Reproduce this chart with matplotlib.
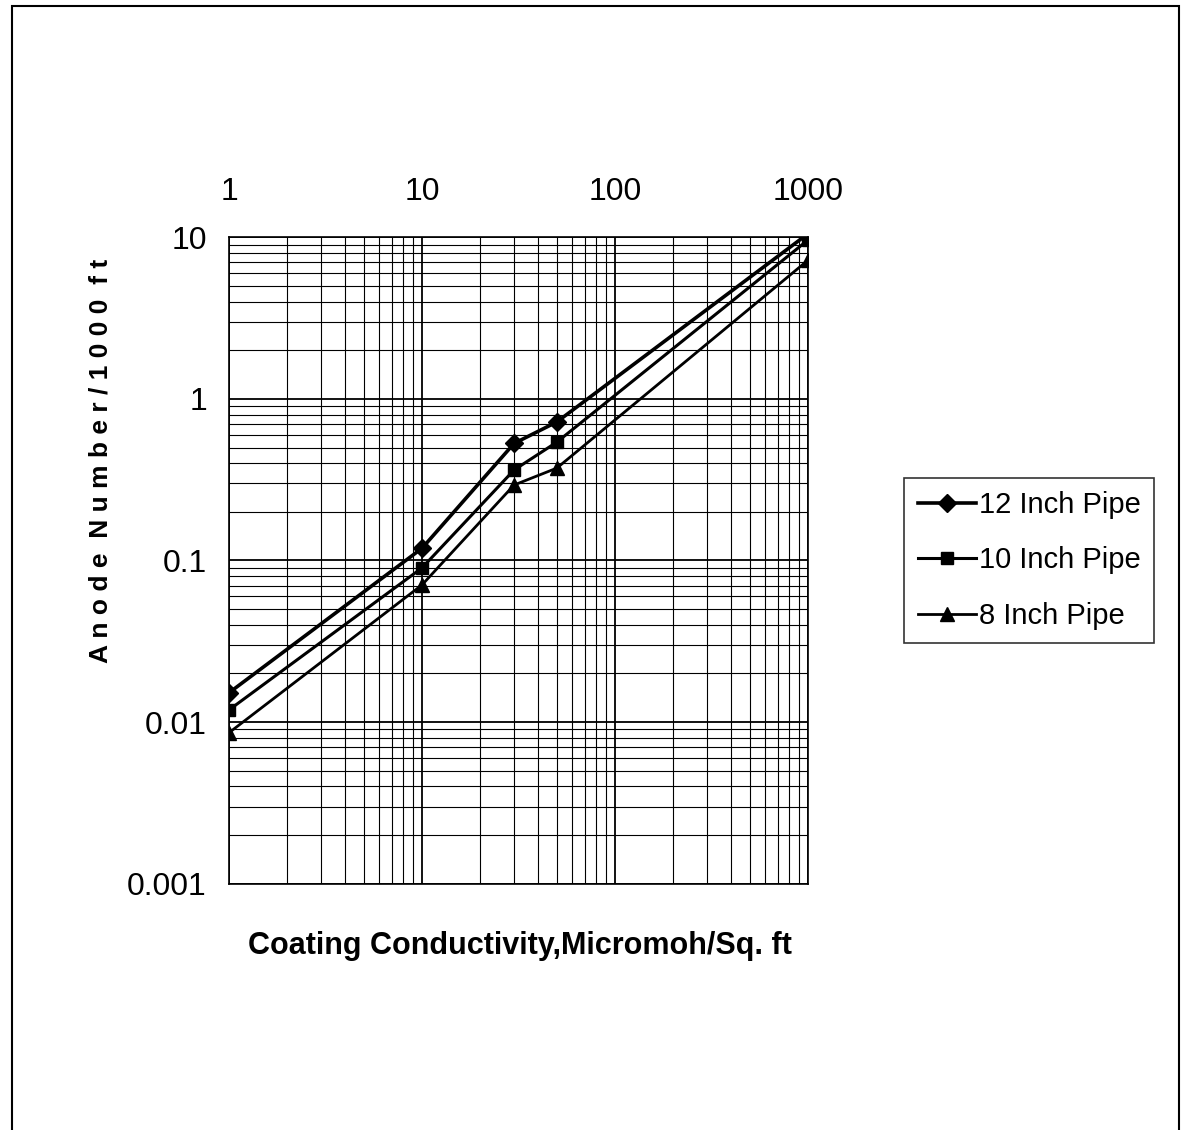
import numpy as np
import matplotlib
matplotlib.use('Agg')
import matplotlib.pyplot as plt
from matplotlib.patches import Rectangle
from matplotlib.ticker import LogLocator, NullFormatter

# coating conductivity (micromoh/sq. ft)
conductivity = [1, 10, 30, 50, 1000]
pipe_12 = [0.0152, 0.119, 0.53, 0.72, 10.5]
pipe_10 = [0.0119, 0.090, 0.363, 0.54, 9.6]
pipe_8 = [0.0086, 0.0706, 0.293, 0.373, 7.2]
series_labels = ["12 Inch Pipe", "10 Inch Pipe", "8 Inch Pipe"]
x_ticks = [1, 10, 100, 1000]
y_ticks = [0.001, 0.01, 0.1, 1, 10]
y_ticklabels = ["0.001", "0.01", "0.1", "1", "10"]

plt.rcParams['font.family'] = ['Liberation Sans', 'DejaVu Sans']

fig = plt.figure(figsize=(11.81, 11.30), dpi=100)
ax = fig.add_axes([0.194, 0.218, 0.490, 0.572])

ax.plot(conductivity, pipe_12, c='black', lw=2.6, marker='D', markersize=9, label=series_labels[0])
ax.plot(conductivity, pipe_10, c='black', lw=2.2, marker='s', markersize=9, label=series_labels[1])
ax.plot(conductivity, pipe_8, c='black', lw=2.0, marker='^', markersize=10, label=series_labels[2])

ax.set_xscale('log')
ax.set_yscale('log')
ax.set_xlim(1, 1000)
ax.set_ylim(0.001, 10)

ax.xaxis.tick_top()
ax.set_xticks(x_ticks)
ax.set_xticklabels([str(t) for t in x_ticks])
ax.set_yticks(y_ticks)
ax.set_yticklabels(y_ticklabels)
ax.xaxis.set_minor_locator(LogLocator(base=10, subs=np.arange(2, 10)))
ax.yaxis.set_minor_locator(LogLocator(base=10, subs=np.arange(2, 10)))
ax.xaxis.set_minor_formatter(NullFormatter())
ax.yaxis.set_minor_formatter(NullFormatter())
ax.tick_params(axis='both', which='both', length=0, labelsize=23, pad=22)
ax.tick_params(axis='y', pad=16)

ax.grid(True, which='major', color='black', lw=1.3)
ax.grid(True, which='minor', color='black', lw=0.8)
for s in ax.spines.values():
    s.set_linewidth(1.2)

fig.text(0.44, 0.163, "Coating Conductivity,Micromoh/Sq. ft", ha='center', va='center',
         fontsize=22, fontweight='bold')
fig.text(0.085, 0.592, "A n o d e  N u m b e r / 1 0 0 0  f t", ha='center', va='center', rotation=90,
         fontsize=19, fontweight='bold')

leg = ax.legend(loc='center left', bbox_to_anchor=(1.167, 0.5), fontsize=21, frameon=True,
                fancybox=False, edgecolor='black', handlelength=2.0, handletextpad=0.1,
                labelspacing=0.95, borderpad=0.45, borderaxespad=0)
leg.get_frame().set_linewidth(1.2)

fig.patches.append(Rectangle((0.01, -0.01), 0.988, 1.005, transform=fig.transFigure,
                             fill=False, edgecolor='black', lw=1.5))

plt.savefig('out.png', dpi=100)
